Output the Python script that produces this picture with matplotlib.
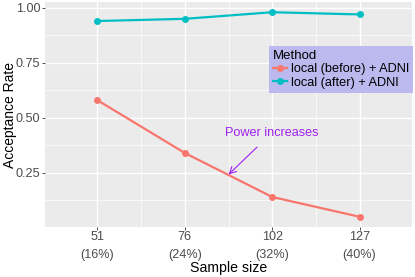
import matplotlib
matplotlib.use("Agg")
import matplotlib.pyplot as plt
from matplotlib.lines import Line2D

sample_sizes = ["51", "76", "102", "127"]
percentages = ["(16%)", "(24%)", "(32%)", "(40%)"]
before_vals = [0.58, 0.34, 0.14, 0.05]
after_vals = [0.94, 0.95, 0.98, 0.97]
series_names = ["local (before) + ADNI", "local (after) + ADNI"]
colors = ["#F8766D", "#00BFC4"]
y_ticks = [0.25, 0.50, 0.75, 1.00]

plt.rcParams['font.family'] = ['Liberation Sans', 'DejaVu Sans']

fig = plt.figure(figsize=(4.15, 2.77), dpi=100)
W, H = 415, 277
left, right, top, bottom = 45, 412, 2, 227
ax = fig.add_axes([left / W, (H - bottom) / H, (right - left) / W, (bottom - top) / H])
ax.set_facecolor("#EBEBEB")
for s in ax.spines.values():
    s.set_visible(False)

x = list(range(1, len(sample_sizes) + 1))
ax.set_xlim(0.4, 4.6)
ax.set_ylim(0.0035, 1.0265)

# grid
for yv in [0.125, 0.375, 0.625, 0.875]:
    ax.axhline(yv, color="white", lw=0.5, zorder=0)
for xv in [1.5, 2.5, 3.5]:
    ax.axvline(xv, color="white", lw=0.5, zorder=0)
for yv in y_ticks:
    ax.axhline(yv, color="white", lw=1.0, zorder=0)
for xv in x:
    ax.axvline(xv, color="white", lw=1.0, zorder=0)

for vals, c in zip([before_vals, after_vals], colors):
    ax.plot(x, vals, color=c, lw=1.6, marker="o", markersize=4, zorder=3)

ax.set_xticks(x)
ax.set_xticklabels([f"{a}\n{b}" for a, b in zip(sample_sizes, percentages)],
                   linespacing=1.7)
ax.set_yticks(y_ticks)
ax.set_yticklabels([f"{v:.2f}" for v in y_ticks])
ax.tick_params(axis="both", colors="#333333", labelcolor="#4D4D4D", labelsize=9.1,
               length=2.2, width=0.6)
ax.tick_params(axis="x", pad=0.6)
ax.tick_params(axis="y", pad=1.2)

ax.set_xlabel("Sample size", fontsize=10.2)
ax.set_ylabel("Acceptance Rate", fontsize=10)
ax.xaxis.set_label_coords(0.5, (bottom - 268) / (bottom - top))
ax.yaxis.set_label_coords((10 - left) / (right - left), 0.5)
ax.xaxis.label.set_va("center")
ax.yaxis.label.set_va("center")

ax.annotate("Power increases", xy=(2.5, 0.242), xytext=(3.0, 0.433),
            color="#A020F0", fontsize=9.1, ha="center", va="center",
            arrowprops=dict(arrowstyle="->", color="#A020F0", lw=0.8,
                            shrinkA=6, shrinkB=0, mutation_scale=12),
            zorder=4)

handles = [Line2D([0], [0], color=c, lw=1.6, marker="o", markersize=4) for c in colors]
leg = ax.legend(handles, series_names, title="Method", loc="upper left",
                bbox_to_anchor=((268.7 - left) / (right - left), (bottom - 46) / (bottom - top)),
                borderaxespad=0, fontsize=9.2, title_fontsize=9.5, frameon=True,
                fancybox=False, handlelength=1.1, handletextpad=0.35,
                borderpad=0.3, labelspacing=0.12, alignment="left")
leg.get_frame().set_facecolor("#BBB9EE")
leg.get_frame().set_edgecolor("none")
leg.get_frame().set_alpha(1)

fig.savefig("out.png", dpi=100)
